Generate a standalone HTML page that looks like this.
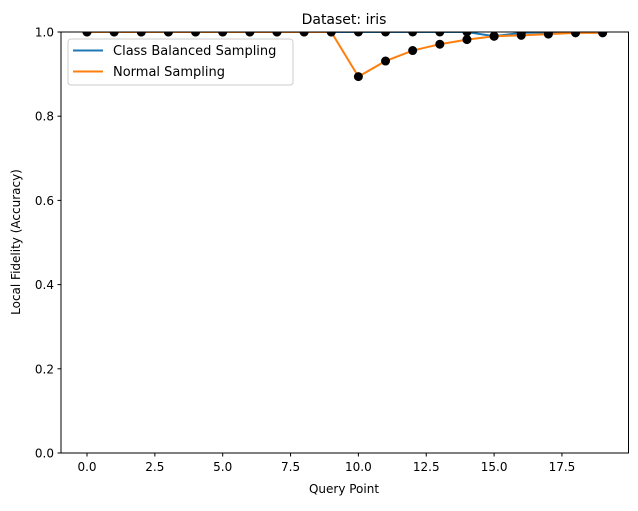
<!DOCTYPE html>
<html><head><meta charset="utf-8"><style>
body{margin:0;background:#fff}
text{font-family:"DejaVu Sans","Liberation Sans",sans-serif;fill:#000}
</style></head><body>
<svg id="chart" width="638" height="506" xmlns="http://www.w3.org/2000/svg">
<defs><clipPath id="clip"><rect x="61" y="32" width="567.5" height="421"/></clipPath></defs>
<rect x="0" y="0" width="638" height="506" fill="#fff"/>
<text x="344" y="24" font-size="14" text-anchor="middle">Dataset: iris</text>
<g id="axes"></g>
<g id="series" clip-path="url(#clip)"></g>
<rect x="61" y="32" width="567.5" height="421" fill="none" stroke="#000" stroke-width="1"/>
<g>
<rect x="68" y="39" width="225" height="46" rx="3" fill="#fff" fill-opacity="0.8" stroke="#ccc"/>
<line x1="73" y1="50.5" x2="103" y2="50.5" stroke="#1f77b4" stroke-width="2"/>
<text x="113" y="55" font-size="13">Class Balanced Sampling</text>
<line x1="73" y1="71.5" x2="103" y2="71.5" stroke="#ff7f0e" stroke-width="2"/>
<text x="113" y="76" font-size="13">Normal Sampling</text>
</g>
<text x="344" y="493" font-size="12" text-anchor="middle">Query Point</text>
<text x="20" y="242" font-size="12" text-anchor="middle" transform="rotate(-90 20 242)">Local Fidelity (Accuracy)</text>
</svg>
<script>
const balanced=[1,1,1,1,1,1,1,1,1,1,1,1,1,1,1,0.99,0.998,0.999,0.999,0.999];
const normal=[1,1,1,1,1,1,1,1,1,1,0.894,0.931,0.956,0.971,0.982,0.99,0.992,0.995,0.998,0.998];
const xTicks=[0,2.5,5,7.5,10,12.5,15,17.5];
const xTickLabels=["0.0","2.5","5.0","7.5","10.0","12.5","15.0","17.5"];
const yTicks=[0,0.2,0.4,0.6,0.8,1.0];
const yTickLabels=["0.0","0.2","0.4","0.6","0.8","1.0"];
const NS="http://www.w3.org/2000/svg";
const xs=v=>87+v*27.14;
const ys=v=>453-v*421;
function mk(tag,attrs,parent){const e=document.createElementNS(NS,tag);for(const k in attrs)e.setAttribute(k,attrs[k]);parent.appendChild(e);return e;}
const axes=document.getElementById('axes'),ser=document.getElementById('series');
xTicks.forEach((t,i)=>{
 const l=mk('line',{x1:xs(t),x2:xs(t),y1:453,y2:456.5,stroke:'#000'},axes);
 
 
 const tx=mk('text',{x:xs(t),y:471,'font-size':12,'text-anchor':'middle'},axes);tx.textContent=xTickLabels[i];
 
 
});
yTicks.forEach((t,i)=>{
 const l=mk('line',{x1:57.5,x2:61,y1:ys(t),y2:ys(t),stroke:'#000'},axes);
 
 
 const tx=mk('text',{x:54,y:ys(t)+4.5,'font-size':12,'text-anchor':'end'},axes);tx.textContent=yTickLabels[i];
 
 
});
function series(data,color,name){
 const p=mk('polyline',{points:data.map((v,i)=>xs(i)+','+ys(v)).join(' '),fill:'none',stroke:color,'stroke-width':2},ser);
 
 
}
series(balanced,'#1f77b4','class-balanced');
series(normal,'#ff7f0e','normal');
[balanced,normal].forEach((d,si)=>d.forEach((v,i)=>{
 const c=mk('circle',{cx:xs(i),cy:ys(v),r:4.5,fill:'#000'},ser);
 
 
}));
</script>
</body></html>
